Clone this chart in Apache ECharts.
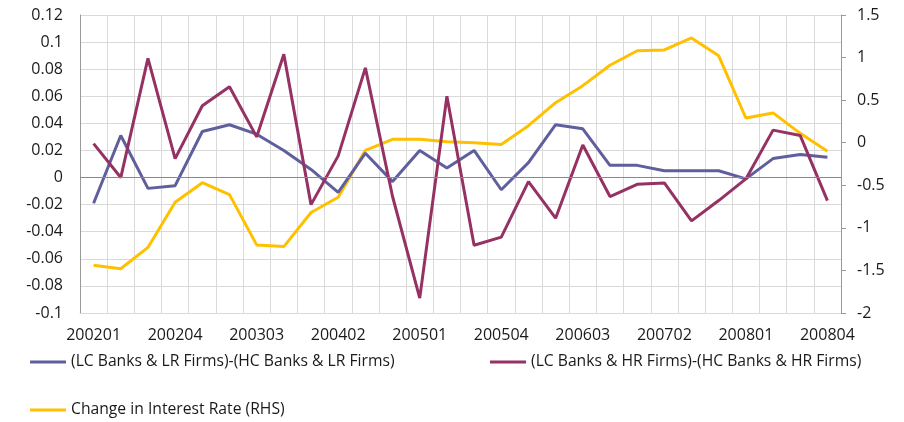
<!DOCTYPE html>
<html><head><meta charset="utf-8">
<script src="https://cdn.jsdelivr.net/npm/echarts@6/dist/echarts.min.js"></script>
<style>html,body{margin:0;padding:0;background:#fff}#c{width:904px;height:422px}</style>
</head><body><div id="c"></div>
<script>
const categories = ['200201','200202','200203','200204','200301','200302','200303','200304',
'200401','200402','200403','200404','200501','200502','200503','200504',
'200601','200602','200603','200604','200701','200702','200703','200704',
'200801','200802','200803','200804'];
const lcLrSeries = [-0.019,0.031,-0.008,-0.006,0.034,0.039,0.032,0.020,0.006,-0.011,0.018,-0.003,0.020,0.007,0.020,-0.009,0.011,0.039,0.036,0.009,0.009,0.005,0.005,0.005,-0.001,0.014,0.017,0.015];
const lcHrSeries = [0.025,0.000,0.088,0.014,0.053,0.067,0.030,0.091,-0.020,0.016,0.081,-0.014,-0.089,0.060,-0.050,-0.044,-0.003,-0.030,0.024,-0.014,-0.005,-0.004,-0.032,-0.017,-0.001,0.035,0.031,-0.017];
const rateSeries = [-1.44,-1.48,-1.23,-0.70,-0.47,-0.61,-1.20,-1.22,-0.82,-0.64,-0.09,0.04,0.04,0.01,0.00,-0.02,0.20,0.47,0.67,0.91,1.08,1.09,1.23,1.02,0.29,0.35,0.11,-0.10];
const names = ['(LC Banks & LR Firms)-(HC Banks & LR Firms)','(LC Banks & HR Firms)-(HC Banks & HR Firms)','Change in Interest Rate (RHS)'];
const leftTicks = {min:-0.1,max:0.12,interval:0.02};
const rightTicks = {min:-2,max:1.5,interval:0.5};

const font = 'Open Sans';
const txt = '#1a1a1a';
const chart = echarts.init(document.getElementById('c'));
const legendBase = {icon:'rect',itemWidth:36,itemHeight:3,itemGap:0,padding:0,textStyle:{fontFamily:font,fontSize:15.7,color:txt}};
chart.setOption({
  animation:false,
  grid:{left:80,right:63,top:15,bottom:109},
  legend:[
    Object.assign({data:[names[0]],left:30,top:354},legendBase),
    Object.assign({data:[names[1]],left:490,top:354},legendBase),
    Object.assign({data:[names[2]],left:30,top:402},legendBase)
  ],
  xAxis:{type:'category',data:categories,boundaryGap:true,
    axisLine:{onZero:false,lineStyle:{color:'#d9d9d9'}},axisTick:{show:false},
    axisLabel:{interval:2,fontFamily:font,fontSize:16,color:txt,margin:14},
    splitLine:{show:true,interval:0,lineStyle:{color:'#d9d9d9'}}},
  yAxis:[
    {type:'value',min:leftTicks.min,max:leftTicks.max,interval:leftTicks.interval,
     axisLine:{show:true,lineStyle:{color:'#999'}},axisTick:{show:false},
     axisLabel:{fontFamily:font,fontSize:16,color:txt,margin:17,formatter:v=>String(+v.toFixed(2))},
     splitLine:{lineStyle:{color:'#d9d9d9'}}},
    {type:'value',min:rightTicks.min,max:rightTicks.max,interval:rightTicks.interval,
     axisLine:{show:true,lineStyle:{color:'#999'}},axisTick:{show:true,inside:false,length:5,lineStyle:{color:'#999'}},
     axisLabel:{fontFamily:font,fontSize:16,color:txt,margin:16,formatter:v=>String(+v.toFixed(1))},
     splitLine:{show:false}}
  ],
  series:[
    {name:names[0],type:'line',data:lcLrSeries,yAxisIndex:0,symbol:'none',z:3,
     lineStyle:{color:'#5f5f9e',width:3},itemStyle:{color:'#5f5f9e'},
     markLine:{silent:true,symbol:'none',label:{show:false},lineStyle:{color:'#888',type:'solid',width:1},data:[{yAxis:0}]}},
    {name:names[1],type:'line',data:lcHrSeries,yAxisIndex:0,symbol:'none',z:3,
     lineStyle:{color:'#953163',width:3},itemStyle:{color:'#953163'}},
    {name:names[2],type:'line',data:rateSeries,yAxisIndex:1,symbol:'none',z:2,
     lineStyle:{color:'#ffc000',width:3},itemStyle:{color:'#ffc000'}}
  ]
});
</script></body></html>
